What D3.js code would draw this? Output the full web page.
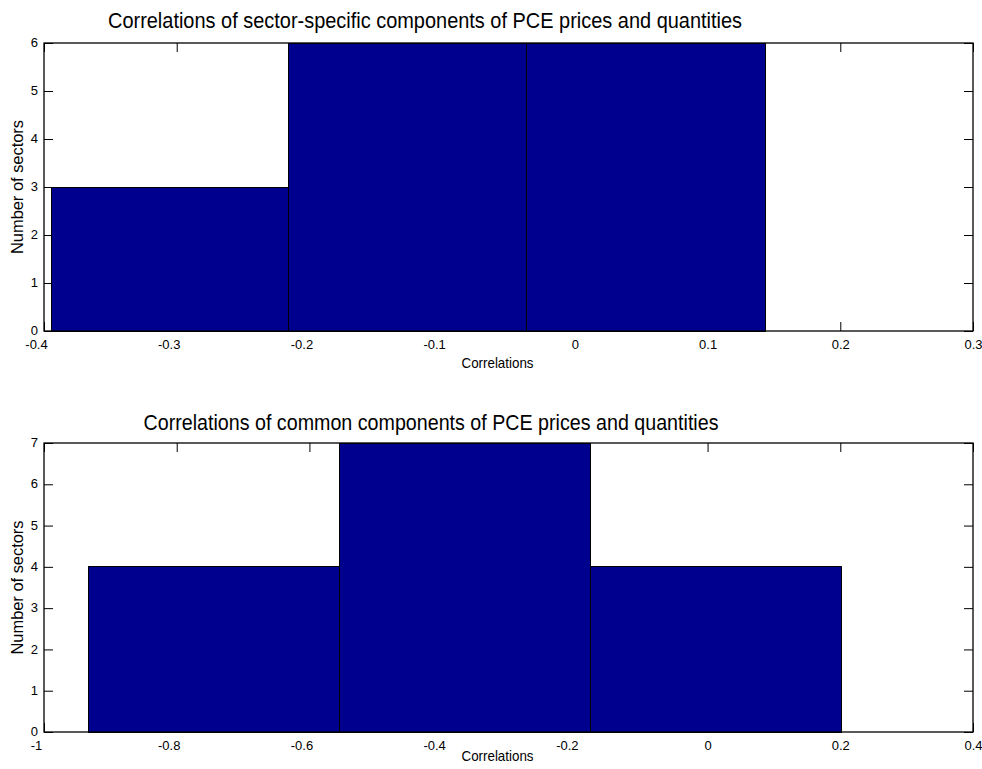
<!DOCTYPE html>
<html>
<head>
<meta charset="utf-8">
<script src="https://cdn.jsdelivr.net/npm/d3@7"></script>
<style>
  body { margin: 0; background: #fff; }
  svg { display: block; font-family: "Liberation Sans", Arial, sans-serif; }
</style>
</head>
<body>
<div class="chart"></div>
<script>
// histogram 1: sector-specific components
var topTitle = "Correlations of sector-specific components of PCE prices and quantities";
var topEdges = [-0.3947, -0.2159, -0.0363, 0.1438];
var topCounts = [3, 6, 6];
var topXTicks = [-0.4, -0.3, -0.2, -0.1, 0, 0.1, 0.2, 0.3];
var topXLabels = ["-0.4", "-0.3", "-0.2", "-0.1", "0", "0.1", "0.2", "0.3"];
var topYTicks = [0, 1, 2, 3, 4, 5, 6];

// histogram 2: common components
var botTitle = "Correlations of common components of PCE prices and quantities";
var botEdges = [-0.9326, -0.5550, -0.1767, 0.2011];
var botCounts = [4, 7, 4];
var botXTicks = [-1, -0.8, -0.6, -0.4, -0.2, 0, 0.2, 0.4];
var botXLabels = ["-1", "-0.8", "-0.6", "-0.4", "-0.2", "0", "0.2", "0.4"];
var botYTicks = [0, 1, 2, 3, 4, 5, 6, 7];

var xLabel = "Correlations";
var yLabel = "Number of sectors";

var width = 982,
    height = 769;

var svg = d3.select(".chart").append("svg")
    .attr("width", width)
    .attr("height", height);

function drawPanel(opt) {
  var x = d3.scaleLinear()
      .domain([opt.xTicks[0], opt.xTicks[opt.xTicks.length - 1]])
      .range([44, 973]);

  var y = d3.scaleLinear()
      .domain([0, opt.yTicks[opt.yTicks.length - 1]])
      .range([opt.bottom, opt.top]);

  var g = svg.append("g");

  // ticks (inside the box, on all four sides)
  var xb = g.append("g")
      .attr("transform", "translate(0," + opt.bottom + ")")
      .call(d3.axisBottom(x).tickValues(opt.xTicks).tickSizeInner(-9).tickSizeOuter(0).tickPadding(9)
        .tickFormat(function(d, i){ return opt.xLabels[i]; }));
  xb.selectAll("text")
      .attr("dx", function(d){ return d < 0 ? -8 : 0; });

  g.append("g")
      .attr("transform", "translate(0," + opt.top + ")")
      .call(d3.axisTop(x).tickValues(opt.xTicks).tickSizeInner(-9).tickSizeOuter(0).tickFormat(""));

  var yl = g.append("g")
      .attr("transform", "translate(44,0)")
      .call(d3.axisLeft(y).tickValues(opt.yTicks).tickSizeInner(-9).tickSizeOuter(0).tickPadding(6)
        .tickFormat(d3.format("d")));
  yl.selectAll("text").attr("dy", "0.28em");

  g.append("g")
      .attr("transform", "translate(973,0)")
      .call(d3.axisRight(y).tickValues(opt.yTicks).tickSizeInner(-9).tickSizeOuter(0).tickFormat(""));

  g.selectAll(".domain").remove();
  g.selectAll(".tick line").attr("stroke", "#000");
  g.selectAll(".tick text")
      .attr("fill", "#000")
      .style("font-family", "'Liberation Sans', Arial, sans-serif")
      .style("font-size", "13px");

  // bars
  g.append("g")
      .selectAll("rect")
      .data(opt.counts)
      .enter()
      .append("rect")
      .attr("x", function(d, i){ return x(opt.edges[i]); })
      .attr("width", function(d, i){ return x(opt.edges[i + 1]) - x(opt.edges[i]); })
      .attr("y", function(d){ return y(d); })
      .attr("height", function(d){ return y(0) - y(d); })
      .attr("fill", "#00008f")
      .attr("stroke", "#000")
      .attr("stroke-width", 1)
      .attr("shape-rendering", "crispEdges");

  // box
  g.append("rect")
      .attr("x", 44)
      .attr("y", opt.top)
      .attr("width", 973 - 44)
      .attr("height", opt.bottom - opt.top)
      .attr("fill", "none")
      .attr("stroke", "#000")
      .attr("stroke-width", 1.3);

  g.append("text")
      .attr("x", opt.titleX)
      .attr("y", opt.titleY)
      .attr("textLength", opt.titleLen)
      .attr("lengthAdjust", "spacingAndGlyphs")
      .style("font-size", "22px")
      .text(opt.title);

  g.append("text")
      .attr("x", 461.5)
      .attr("y", opt.xLabelY)
      .attr("textLength", 72)
      .attr("lengthAdjust", "spacingAndGlyphs")
      .style("font-size", "15px")
      .text(xLabel);

  g.append("text")
      .attr("transform", "translate(23," + ((opt.top + opt.bottom) / 2) + ") rotate(-90)")
      .attr("text-anchor", "middle")
      .attr("textLength", 134)
      .attr("lengthAdjust", "spacingAndGlyphs")
      .style("font-size", "17px")
      .text(yLabel);
}

drawPanel({
  title: topTitle, edges: topEdges, counts: topCounts,
  xTicks: topXTicks, xLabels: topXLabels, yTicks: topYTicks,
  top: 43, bottom: 331, titleX: 108, titleY: 28, titleLen: 634, xLabelY: 368
});

drawPanel({
  title: botTitle, edges: botEdges, counts: botCounts,
  xTicks: botXTicks, xLabels: botXLabels, yTicks: botYTicks,
  top: 443, bottom: 732, titleX: 143.5, titleY: 430, titleLen: 575, xLabelY: 761
});
</script>
</body>
</html>
